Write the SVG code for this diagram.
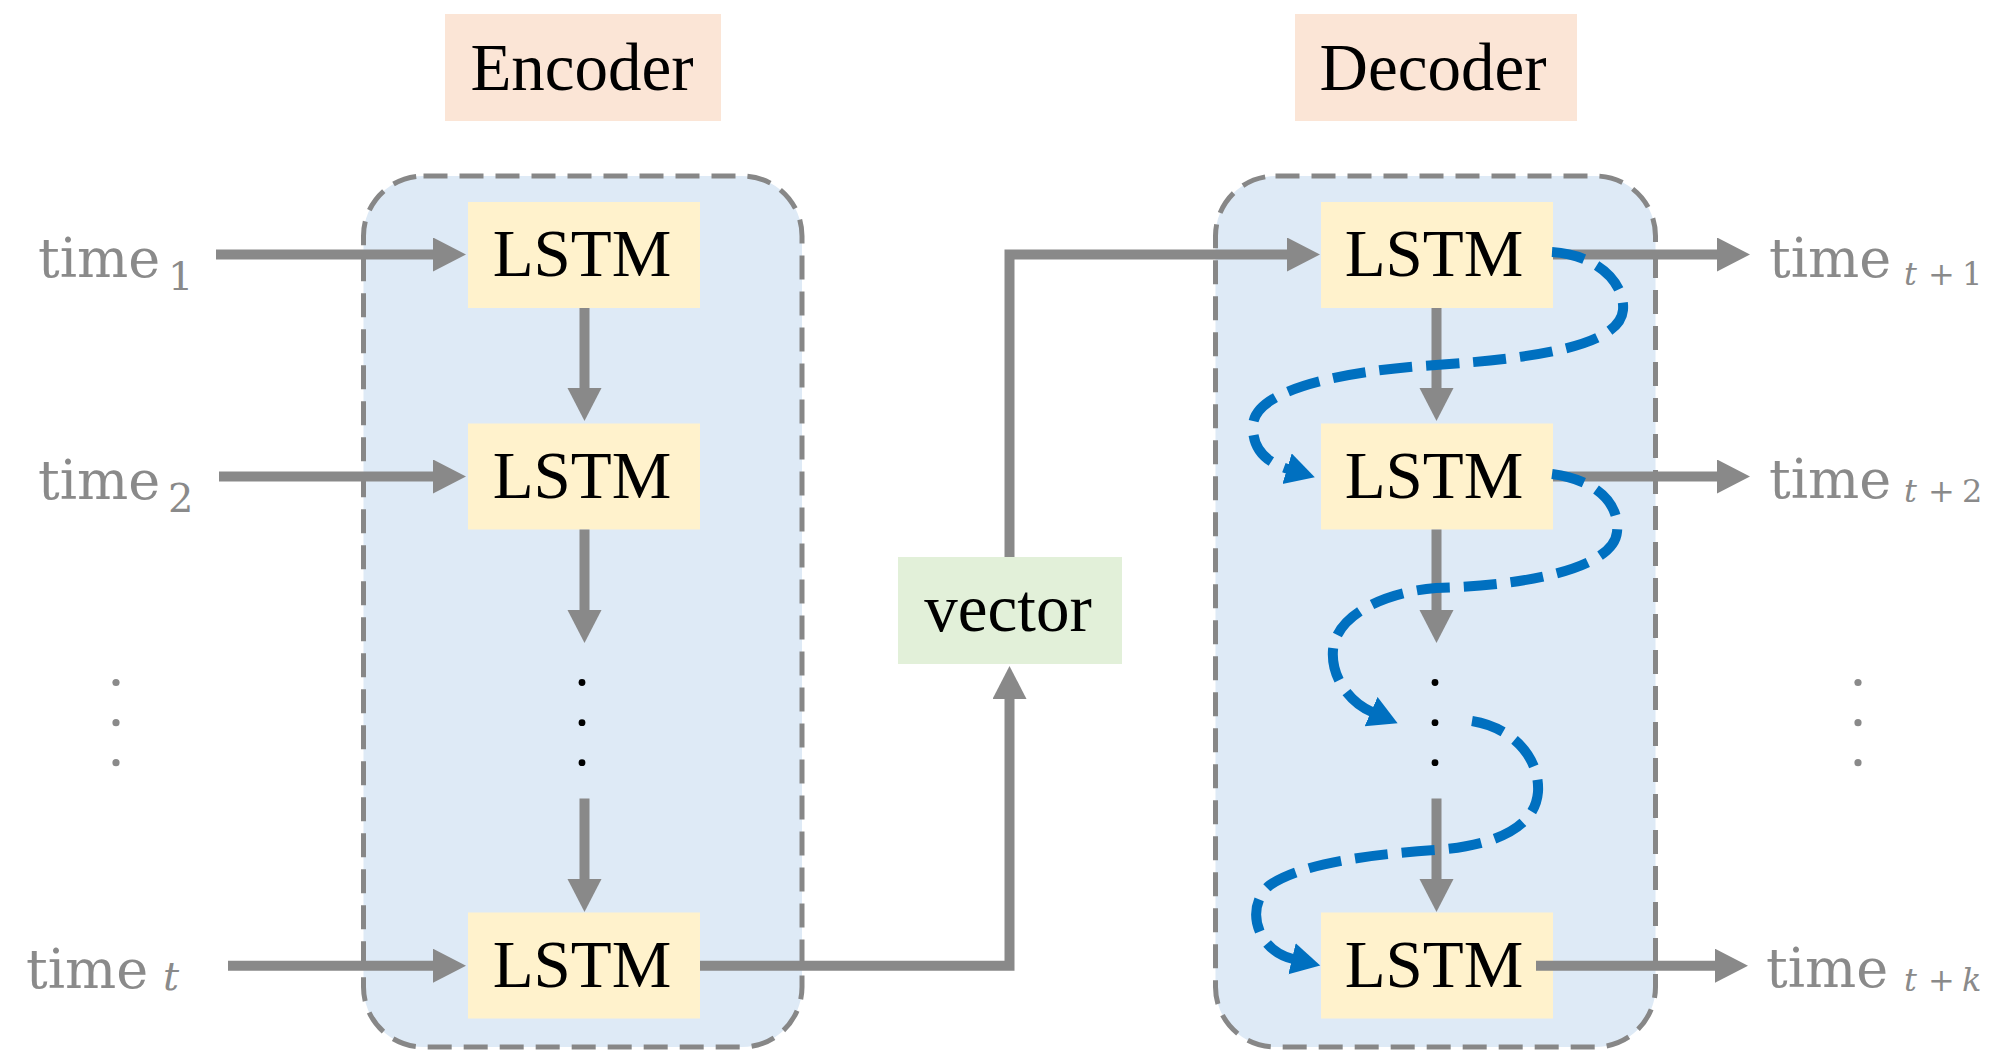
<svg xmlns="http://www.w3.org/2000/svg" width="2002" height="1054" viewBox="0 0 2002 1054">
<style>
.bg{fill:#ffffff}
.cont{fill:#DEEAF6;stroke:#878787;stroke-width:5;stroke-dasharray:24 12}
.lstm{fill:#FFF2CC}
.hdr{fill:#FBE5D6}
.vec{fill:#E2F0D9}
.lbl{font-family:"Liberation Serif","Times New Roman",serif;font-size:67px;fill:#000;text-anchor:middle}
.tm{font-family:"DejaVu Serif",serif;font-size:54px;fill:#8A8A8A}
.sub{font-family:"DejaVu Serif",serif;font-size:40px;fill:#8A8A8A}
.subs{font-family:"DejaVu Serif",serif;font-size:32px;fill:#8A8A8A}
.it{font-style:italic}
.gl{fill:none;stroke:#898989;stroke-width:10}
.bl{fill:none;stroke:#0070C0;stroke-width:10;stroke-dasharray:33 14}
.dk{fill:#000}
.gd{fill:#8A8A8A}
</style>
<defs>
<marker id="ah" markerUnits="userSpaceOnUse" markerWidth="36" markerHeight="36" viewBox="0 0 36 36" refX="1" refY="17" orient="auto">
<path d="M0,0 L33,17 L0,34 z" fill="#898989"/>
</marker>
<marker id="bh" markerUnits="userSpaceOnUse" markerWidth="34" markerHeight="34" viewBox="0 0 34 34" refX="1" refY="16" orient="auto">
<path d="M0,0 L29,16 L0,32 z" fill="#0070C0"/>
</marker>
</defs>
<rect class="bg" x="0" y="0" width="2002" height="1054"/>

<g id="encoder-container"><rect class="cont" x="363.5" y="176" width="438.5" height="871" rx="60" ry="60"/></g>
<g id="decoder-container"><rect class="cont" x="1215.5" y="176" width="440" height="871" rx="60" ry="60"/></g>

<g id="encoder-label"><rect class="hdr" x="445" y="14" width="276" height="107"/><text class="lbl" x="582" y="90">Encoder</text></g>
<g id="decoder-label"><rect class="hdr" x="1295" y="14" width="282" height="107"/><text class="lbl" x="1433" y="90">Decoder</text></g>

<g id="enc-lstm1"><rect class="lstm" x="468" y="202" width="232" height="106"/><text class="lbl" x="582" y="276">LSTM</text></g>
<g id="enc-lstm2"><rect class="lstm" x="468" y="423.5" width="232" height="106"/><text class="lbl" x="582" y="498">LSTM</text></g>
<g id="enc-lstm3"><rect class="lstm" x="468" y="912.5" width="232" height="106"/><text class="lbl" x="582" y="987">LSTM</text></g>

<g id="dec-lstm1"><rect class="lstm" x="1321" y="202" width="232" height="106"/><text class="lbl" x="1434" y="276">LSTM</text></g>
<g id="dec-lstm2"><rect class="lstm" x="1321" y="423.5" width="232" height="106"/><text class="lbl" x="1434" y="498">LSTM</text></g>
<g id="dec-lstm3"><rect class="lstm" x="1321" y="912.5" width="232" height="106"/><text class="lbl" x="1434" y="987">LSTM</text></g>

<g id="vector"><rect class="vec" x="898" y="557" width="224" height="107"/><text class="lbl" x="1008" y="631">vector</text></g>

<g id="in-time1"><text class="tm" x="38" y="277">time</text><text class="sub" x="168" y="290">1</text></g>
<g id="in-time2"><text class="tm" x="38" y="499">time</text><text class="sub" x="168" y="512">2</text></g>
<g id="in-timet"><text class="tm" x="26" y="988">time</text><text class="sub it" x="163" y="990" font-size="33">t</text></g>

<g id="out-time1"><text class="tm" x="1769" y="277">time</text><text class="subs"><tspan class="it" x="1904" y="285">t</tspan><tspan x="1928" y="285">+</tspan><tspan x="1962" y="285">1</tspan></text></g>
<g id="out-time2"><text class="tm" x="1769" y="498">time</text><text class="subs"><tspan class="it" x="1904" y="502">t</tspan><tspan x="1928" y="502">+</tspan><tspan x="1962" y="502">2</tspan></text></g>
<g id="out-timek"><text class="tm" x="1766" y="987">time</text><text class="subs"><tspan class="it" x="1904" y="991">t</tspan><tspan x="1928" y="991">+</tspan><tspan class="it" x="1962" y="991">k</tspan></text></g>

<g id="dots">
<circle class="gd" cx="116" cy="682.5" r="3.6"/><circle class="gd" cx="116" cy="722.7" r="3.6"/><circle class="gd" cx="116" cy="762.7" r="3.6"/>
<circle class="dk" cx="582" cy="682.5" r="3.4"/><circle class="dk" cx="582" cy="722.7" r="3.4"/><circle class="dk" cx="582" cy="762.7" r="3.4"/>
<circle class="dk" cx="1435" cy="682.5" r="3.4"/><circle class="dk" cx="1435" cy="722.7" r="3.4"/><circle class="dk" cx="1435" cy="762.7" r="3.4"/>
<circle class="gd" cx="1858" cy="682.5" r="3.6"/><circle class="gd" cx="1858" cy="722.7" r="3.6"/><circle class="gd" cx="1858" cy="762.7" r="3.6"/>
</g>

<g id="connectors">
<path class="gl" d="M216,254.5 H434" marker-end="url(#ah)"/>
<path class="gl" d="M219,476.5 H434" marker-end="url(#ah)"/>
<path class="gl" d="M228,965.7 H434" marker-end="url(#ah)"/>
<path class="gl" d="M584.5,308 V389" marker-end="url(#ah)"/>
<path class="gl" d="M584.5,529.5 V611" marker-end="url(#ah)"/>
<path class="gl" d="M584.5,798.5 V880" marker-end="url(#ah)"/>
<path class="gl" d="M700,965.7 H1009.5 V698" marker-end="url(#ah)"/>
<path class="gl" d="M1009.5,557 V254.5 H1288" marker-end="url(#ah)"/>
<path class="gl" d="M1436.5,308 V389" marker-end="url(#ah)"/>
<path class="gl" d="M1436.5,529.5 V611" marker-end="url(#ah)"/>
<path class="gl" d="M1436.5,798.5 V880" marker-end="url(#ah)"/>
<path class="gl" d="M1553,254.5 H1718" marker-end="url(#ah)"/>
<path class="gl" d="M1553,476.5 H1718" marker-end="url(#ah)"/>
<path class="gl" d="M1536,965.7 H1716" marker-end="url(#ah)"/>
<path class="bl" d="M1552,252 C1600,255 1625,285 1623,310 C1620,345 1540,358 1436,365 C1340,371 1255,390 1253,425 C1252,448 1265,462 1288,469" marker-end="url(#bh)"/>
<path class="bl" d="M1552,474 C1598,480 1620,505 1617,532 C1614,565 1540,585 1436,588 C1385,592 1336,615 1333,650 C1331,675 1347,701 1372,712" marker-end="url(#bh)"/>
<path class="bl" d="M1472,721 C1515,728 1540,760 1538,792 C1535,830 1490,846 1436,850 C1360,855 1300,865 1270,885 C1245,905 1255,950 1293,959" marker-end="url(#bh)"/>
</g>
</svg>
